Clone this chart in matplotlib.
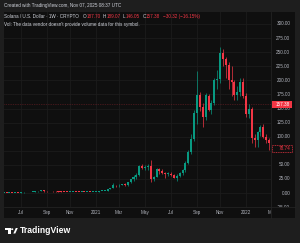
import numpy as np
import pandas as pd
import matplotlib
matplotlib.use('Agg')
import matplotlib.pyplot as plt
from matplotlib.patches import Rectangle, Circle, Polygon

# weekly SOL/USD bars, first bar = week of 2020-05-25
start_week = '2020-05-25'
opens = [0.62, 0.66, 0.62, 0.70, 0.63, 0.64, 0.60, 0.95, 1.15, 1.30, 1.55, 1.85, 2.95, 3.2, 4.5, 3.0,
         2.9, 3.3, 2.8, 2.75, 2.55, 2.45, 2.0, 1.65, 1.9, 2.2, 2.0, 1.8, 1.85, 1.55, 1.6, 1.4,
         1.5, 2.3, 3.2, 3.5, 4.1, 7.5, 8.9, 13.8, 13.4, 14.5, 15.2, 14.0, 18.9, 24.8, 29.0, 32.5,
         47.5, 45.0, 47.0, 48.0, 24.5, 29.0, 42.5, 39.5, 35.0, 33.5, 34.5, 32.8, 27.5, 30.5, 36.0,
         40.0, 54.0, 73.0, 95.0, 142.0, 174.0, 152.0, 135.0, 173.0, 148.0, 160.0, 201.0, 203.0,
         249.0, 237.0, 228.0, 200.0, 197.0, 174.0, 180.0, 197.0, 172.0, 141.0, 149.0, 97.0,
         94.0, 108.0, 117.0, 100.0, 94.0, 88.0]
highs = [0.74, 0.80, 0.78, 0.74, 0.72, 0.75, 1.0, 1.25, 1.40, 1.70, 2.0, 3.1, 3.6, 4.9, 4.8, 3.4,
         3.6, 3.4, 3.1, 2.9, 2.8, 2.5, 2.1, 2.0, 2.3, 2.4, 2.2, 2.0, 1.9, 1.7, 1.65, 1.6,
         2.4, 3.5, 3.7, 4.4, 7.9, 9.5, 17.0, 14.8, 15.2, 16.5, 17.0, 19.0, 25.0, 31.5, 35.0, 49.0,
         52.0, 50.0, 52.0, 58.0, 30.0, 44.0, 45.0, 42.0, 37.0, 38.0, 38.0, 34.0, 33.0, 38.0, 42.0,
         56.0, 76.0, 105.0, 147.0, 216.0, 180.0, 160.0, 178.0, 176.0, 165.0, 205.0, 218.0, 260.0,
         255.0, 241.0, 232.0, 226.0, 200.0, 190.0, 205.0, 204.0, 178.0, 158.0, 152.0, 104.0,
         110.0, 121.0, 123.0, 104.0, 98.0, 92.0]
lows = [0.55, 0.60, 0.57, 0.60, 0.58, 0.56, 0.58, 0.88, 1.05, 1.20, 1.45, 1.80, 2.6, 3.0, 2.6, 2.3,
        2.8, 2.5, 2.6, 2.5, 2.3, 1.9, 1.6, 1.55, 1.8, 1.9, 1.6, 1.7, 1.4, 1.45, 1.3, 1.35,
        1.45, 2.1, 2.7, 3.1, 4.0, 6.8, 8.5, 10.0, 11.5, 13.8, 13.0, 12.5, 17.5, 22.0, 25.0, 30.0,
        42.0, 40.0, 40.0, 20.0, 22.0, 28.0, 34.0, 34.0, 26.0, 31.0, 31.0, 26.0, 22.0, 29.0, 32.0,
        38.0, 52.0, 70.0, 92.0, 122.0, 145.0, 117.0, 130.0, 145.0, 140.0, 157.0, 185.0, 195.0,
        226.0, 205.0, 185.0, 172.0, 165.0, 165.0, 172.0, 168.0, 135.0, 133.0, 88.0, 81.0,
        81.0, 102.0, 98.0, 88.0, 77.0, 76.0]
closes = [0.66, 0.62, 0.70, 0.63, 0.64, 0.60, 0.95, 1.15, 1.30, 1.55, 1.85, 2.95, 3.2, 4.5, 3.0, 2.9,
          3.3, 2.8, 2.75, 2.55, 2.45, 2.0, 1.65, 1.9, 2.2, 2.0, 1.8, 1.85, 1.55, 1.6, 1.4, 1.5,
          2.3, 3.2, 3.5, 4.1, 7.5, 8.9, 13.8, 13.4, 14.5, 15.2, 14.0, 18.9, 24.8, 29.0, 32.5, 47.5,
          45.0, 47.0, 48.0, 24.5, 29.0, 42.5, 39.5, 35.0, 33.5, 34.5, 32.8, 27.5, 30.5, 36.0, 40.0,
          54.0, 73.0, 95.0, 142.0, 174.0, 152.0, 135.0, 174.0, 148.0, 160.0, 201.0, 203.0, 249.0,
          237.0, 228.0, 200.0, 197.0, 174.0, 180.0, 197.0, 172.0, 141.0, 149.0, 97.0, 94.0,
          108.0, 117.0, 100.0, 94.0, 88.0, 78.74]

price_ticks = [300, 275, 250, 225, 200, 175, 150, 125, 100, 50, 25, 0, -25]
grid_prices = [300, 275, 250, 225, 200, 175, 150, 125, 100, 75, 50, 25, 0, -25]
last_price = 157.38
visible_close = 78.74
header = 'Created with TradingView.com, Nov 07, 2025 08:37 UTC'
legend_pieces = [('Solana / U.S. Dollar · 1W · CRYPTO', 'w'), ('O', 'w'), ('187.70', 'r'),
                 ('H', 'w'), ('189.07', 'r'), ('L', 'w'), ('146.05', 'r'), ('C', 'w'),
                 ('157.38', 'r'), ('−30.32 (−16.15%)', 'r')]
vol_text = "Vol: The data vendor doesn't provide volume data for this symbol."

GREEN = '#089981'
RED = '#f23645'
PANEL = '#0f0f0f'
OUTER = '#1e1e1e'
GRID = '#1c1c1c'
TXT = '#b2b5be'
W, H = 300, 243
FONT = 'Liberation Sans'

def fx(px):
    return px / W

def fy(py):
    return 1 - py / H

o = np.array(opens); h = np.array(highs); l = np.array(lows); c = np.array(closes)
n = len(o)
idx = np.arange(n)
dates = pd.date_range(start_week, periods=n + 2, freq='W-MON')

# first bar of each odd month gets a time label
ticks, tlabels = [], []
for i in range(1, len(dates)):
    d = dates[i]
    if d.month != dates[i - 1].month and d.month % 2 == 1:
        ticks.append(i)
        tlabels.append(str(d.year) if d.month == 1 else d.strftime('%b'))

fig = plt.figure(figsize=(3.0, 2.43), dpi=100)
fig.patch.set_facecolor(OUTER)
fig.patches.append(Rectangle((fx(4), fy(218)), fx(291), 206 / H, transform=fig.transFigure,
                             facecolor=PANEL, edgecolor='none', zorder=-5))

xlim = (0.11, 92.66)
ylim = (-24.85, 321.3)

ax = fig.add_axes([fx(4), fy(207), fx(267), 195 / H])
ax.set_facecolor(PANEL)
ax.set_xlim(*xlim)
ax.set_ylim(*ylim)
for t in ticks:
    ax.axvline(t, color=GRID, lw=0.6, zorder=0)
for p in grid_prices:
    ax.axhline(p, color=GRID, lw=0.6, zorder=0)

up = c >= o
cols = np.where(up, GREEN, RED)
body_lo = np.minimum(o, c)
body_h = np.maximum(np.abs(c - o), 1.3)
ax.vlines(idx, l, h, colors=cols, lw=0.5, zorder=2)
ax.bar(idx, body_h, bottom=body_lo, width=0.7, color=cols, linewidth=0, zorder=3)
ax.axhline(last_price, color=RED, lw=0.5, ls=(0, (1, 1.5)), alpha=0.45, zorder=1)
ax.set_xticks([]); ax.set_yticks([])
for s in ax.spines.values():
    s.set_visible(False)

# price scale
axp = fig.add_axes([fx(271), fy(207), fx(24), 195 / H])
axp.set_facecolor(PANEL)
axp.set_ylim(*ylim); axp.set_xlim(0, 1)
axp.axis('off')
for p in price_ticks:
    axp.text(0.8, p, f'{p:.2f}', ha='right', va='center', fontsize=3.3, color=TXT,
             family=FONT, clip_on=True)
axp.add_patch(Rectangle((0.03, last_price - 6.2), 0.85, 12.4, facecolor=RED, edgecolor='none', zorder=5))
axp.text(0.8, last_price, f'{last_price:.2f}', ha='right', va='center', fontsize=3.3,
         color='white', family=FONT, zorder=6)
axp.add_patch(Rectangle((0.06, visible_close - 6.0), 0.8, 12.0, facecolor=PANEL, edgecolor=RED,
                        lw=0.5, ls=(0, (1.5, 1)), zorder=5))
axp.text(0.8, visible_close, f'{visible_close:.2f}', ha='right', va='center', fontsize=3.3,
         color=RED, family=FONT, zorder=6)

# time scale
axt = fig.add_axes([fx(4), fy(218), fx(267), 11 / H])
axt.set_xlim(*xlim); axt.set_ylim(0, 1)
axt.axis('off')
for t, s in zip(ticks, tlabels):
    axt.text(t, 0.5, s, ha='center', va='center', fontsize=3.3, color=TXT, family=FONT, clip_on=True)

fig.add_artist(plt.Line2D([fx(271), fx(271)], [fy(12), fy(218)], color='#262626', lw=0.5))
fig.add_artist(plt.Line2D([fx(4), fx(295)], [fy(207), fy(207)], color='#262626', lw=0.5))

# header and legend
fig.text(fx(4), fy(6), header, fontsize=3.3, color='#d1d4dc', va='center', family=FONT)
r = fig.canvas.get_renderer()
x = fx(4)
for k, (s, col) in enumerate(legend_pieces):
    t = fig.text(x, fy(16.5), s, fontsize=3.3, color='#d1d4dc' if col == 'w' else RED,
                 va='center', family=FONT)
    wpx = t.get_window_extent(renderer=r).width
    gap = 0.3 if col == 'w' and s in 'OHLC' else 2.4
    if k == 0:
        gap = 3.5
    x += (wpx + gap) / W
fig.text(fx(4), fy(24.5), vol_text, fontsize=3.3, color='#d1d4dc', va='center', family=FONT)

# footer logo
fig.patches.append(Rectangle((fx(5), fy(230)), fx(5.5), 2 / H, transform=fig.transFigure,
                             facecolor='white', edgecolor='none'))
fig.patches.append(Rectangle((fx(8.2), fy(233.5)), fx(2.3), 5.5 / H, transform=fig.transFigure,
                             facecolor='white', edgecolor='none'))
fig.patches.append(Circle((fx(12.2), fy(229.2)), 1.1 / W, transform=fig.transFigure,
                          facecolor='white', edgecolor='none'))
fig.patches.append(Polygon([(fx(13.3), fy(233.5)), (fx(15.3), fy(233.5)), (fx(17.8), fy(228)),
                            (fx(15.8), fy(228))], closed=True, transform=fig.transFigure,
                           facecolor='white', edgecolor='none'))
fig.text(fx(20), fy(230.8), 'TradingView', fontsize=6.2, color='white', va='center',
         family=FONT, weight='bold')

fig.savefig('out.png', dpi=100, facecolor=OUTER)
